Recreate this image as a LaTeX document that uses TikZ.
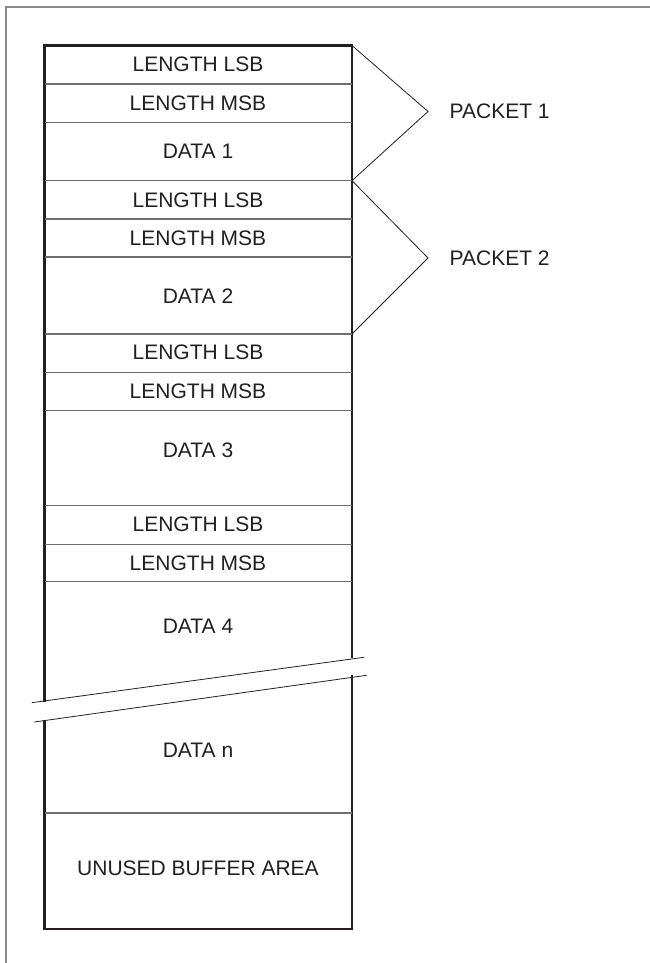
\documentclass[tikz,border=0pt]{standalone}
\usepackage{fontspec}
\setmainfont{Liberation Sans}
\definecolor{ink}{HTML}{231F20}
\definecolor{frame}{HTML}{8A8A8A}
\definecolor{divider}{HTML}{6E6E6E}
\begin{document}
\begin{tikzpicture}[x=1pt,y=-1pt,
  outline/.style={draw=ink,line width=2.2pt,line cap=rect},
  divline/.style={draw=divider,line width=1.1pt},
  thin/.style={draw=ink,line width=0.8pt},
  framestyle/.style={draw=frame,line width=1.8pt},
  lbl/.style={text=ink,font=\fontsize{21}{24}\selectfont,inner sep=0pt},
  plbl/.style={lbl,anchor=west}]
\path[use as bounding box] (0,0) rectangle (650,963);
% outer frame (open at right and bottom)
\draw[framestyle] (650,6.7) -- (5.7,6.7) -- (5.7,963);
% box outline, broken
\draw[outline] (44.5,701) -- (44.5,45.5) -- (352,45.5) -- (352,657);
\draw[outline] (44.5,721) -- (44.5,929) -- (352,929) -- (352,676);
% dividers
\foreach \y in {84,122.3,180.7,219,257,334,372.7,410.7,505.7,544.3,581.7,813}
  \draw[divline] (44.5,\y) -- (352,\y);
% break lines
\coordinate (b1l) at (31.7,702.7); \coordinate (b1r) at (364,657.3);
\coordinate (b2l) at (34.3,722);   \coordinate (b2r) at (366.7,675.3);
\draw[thin] (b1l) -- (b1r);
\draw[thin] (b2l) -- (b2r);
% cell labels
\node[lbl] (l1) at (198,64.5) {LENGTH LSB};
\node[lbl] (m1) at (198,103) {LENGTH MSB};
\node[lbl] (d1) at (198,151) {DATA 1};
\node[lbl] (l2) at (198,200) {LENGTH LSB};
\node[lbl] (m2) at (198,238) {LENGTH MSB};
\node[lbl] (d2) at (198,296) {DATA 2};
\node[lbl] (l3) at (198,352.7) {LENGTH LSB};
\node[lbl] (m3) at (198,391.7) {LENGTH MSB};
\node[lbl] (d3) at (198,450.7) {DATA 3};
\node[lbl] (l4) at (198,524) {LENGTH LSB};
\node[lbl] (m4) at (198,563) {LENGTH MSB};
\node[lbl] (d4) at (198,626) {DATA 4};
\node[lbl] (dn) at (198,750) {DATA n};
\node[lbl] (un) at (198,868) {UNUSED BUFFER AREA};
% packet brackets
\coordinate (p1a) at (352,45.5);
\coordinate (p1t) at (428,111.5);
\coordinate (p1b) at (352,180.7);
\coordinate (p2t) at (428,258);
\coordinate (p2b) at (352,334);
\draw[thin] (p1a) -- (p1t) -- (p1b);
\draw[thin] (p1b) -- (p2t) -- (p2b);
\node[plbl] (pk1) at (449.5,111) {PACKET 1};
\node[plbl] (pk2) at (449.5,258) {PACKET 2};
\end{tikzpicture}
\end{document}
